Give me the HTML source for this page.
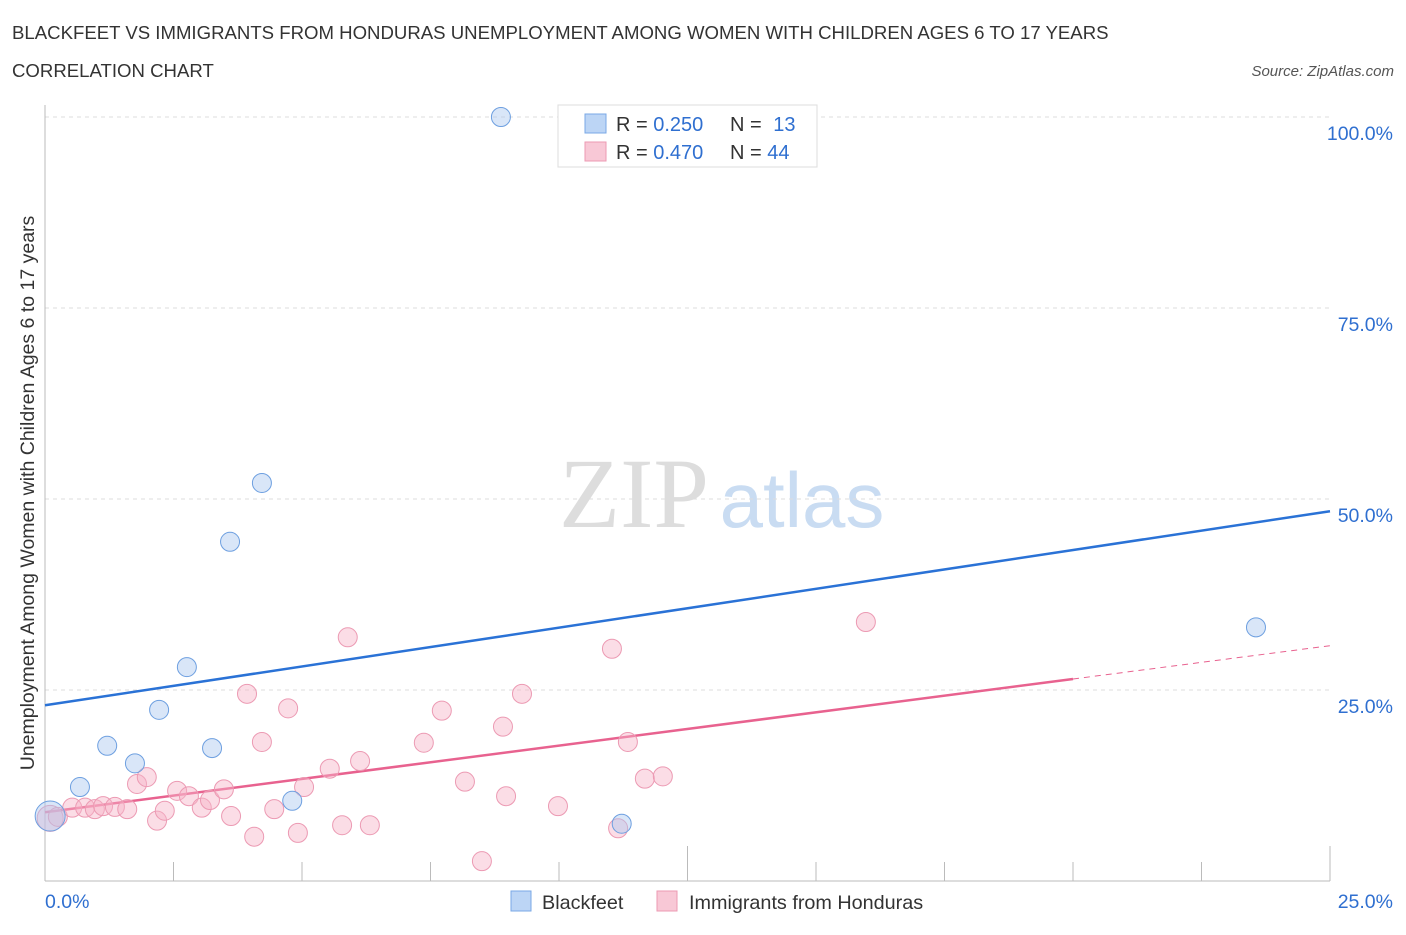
<!DOCTYPE html>
<html><head><meta charset="utf-8"><style>
body{margin:0;background:#fff;font-family:"Liberation Sans",sans-serif;}
svg text{font-family:"Liberation Sans",sans-serif;}
</style></head><body>
<svg width="1406" height="930" xmlns="http://www.w3.org/2000/svg" id="chart">
<text x="12" y="39" font-size="18.6" fill="#333">BLACKFEET VS IMMIGRANTS FROM HONDURAS UNEMPLOYMENT AMONG WOMEN WITH CHILDREN AGES 6 TO 17 YEARS</text>
<text x="12" y="77" font-size="18.6" fill="#333">CORRELATION CHART</text>
<text x="1394" y="76" font-size="15" fill="#555" font-style="italic" text-anchor="end">Source: ZipAtlas.com</text>
<text x="634" y="527" font-size="100" fill="#ddd" style="font-family:'Liberation Serif',serif" text-anchor="middle">ZIP</text>
<text x="802" y="527" font-size="78" fill="#c9dcf2" text-anchor="middle">atlas</text>
<g id="grid"></g><g id="axes"></g><g id="trends"></g><g id="points"></g>
<text transform="translate(34,493) rotate(-90)" font-size="19.5" fill="#333" text-anchor="middle">Unemployment Among Women with Children Ages 6 to 17 years</text>
<g>
<rect x="558" y="105" width="259" height="62" fill="#fff" stroke="#ddd"/>
<rect x="585" y="114" width="21" height="19" fill="#bcd5f5" stroke="#7aa8e6"/>
<rect x="585" y="142" width="21" height="19" fill="#f8c8d6" stroke="#ec9ab3"/>
<text x="616" y="131" font-size="20" fill="#333">R = <tspan fill="#2f6fd0">0.250</tspan></text>
<text x="730" y="131" font-size="20" fill="#333">N = <tspan fill="#2f6fd0" dx="6">13</tspan></text>
<text x="616" y="159" font-size="20" fill="#333">R = <tspan fill="#2f6fd0">0.470</tspan></text>
<text x="730" y="159" font-size="20" fill="#333">N = <tspan fill="#2f6fd0">44</tspan></text>
</g>
<g>
<rect x="511" y="891" width="20" height="20" fill="#bcd5f5" stroke="#7aa8e6"/>
<text x="542" y="909" font-size="19.8" fill="#333">Blackfeet</text>
<rect x="657" y="891" width="20" height="20" fill="#f8c8d6" stroke="#ec9ab3"/>
<text x="689" y="909" font-size="19.8" fill="#333">Immigrants from Honduras</text>
</g>
</svg>
<script>
const blueX=[0.10,0.68,1.21,1.75,2.22,2.76,3.25,3.60,4.22,4.81,8.87,11.22,23.56];
const blueY=[8.5,12.3,17.7,15.4,22.4,28.0,17.4,44.4,52.1,10.5,100,7.5,33.2];
const pinkX=[0.10,0.25,0.53,0.78,0.97,1.13,1.36,1.60,1.79,1.98,2.18,2.33,2.57,2.80,3.05,3.21,3.48,3.62,3.93,4.07,4.22,4.46,4.73,4.92,5.04,5.54,5.78,5.89,6.13,6.32,7.37,7.72,8.17,8.50,8.91,8.97,9.28,9.98,11.03,11.15,11.34,11.67,12.02,15.97];
const pinkY=[8.2,8.4,9.6,9.6,9.4,9.8,9.7,9.4,12.7,13.6,7.9,9.2,11.8,11.1,9.6,10.6,12.0,8.5,24.5,5.8,18.2,9.4,22.6,6.3,12.3,14.7,7.3,31.9,15.7,7.3,18.1,22.3,13.0,2.6,20.2,11.1,24.5,9.8,30.4,6.9,18.2,13.4,13.7,33.9];
const blueTrend=[23.0,48.4];
const pinkTrend=[9.0,30.8];
const pinkSolidEnd=20;
const yTicks=[25,50,75,100];
const yTickLabels=["25.0%","50.0%","75.0%","100.0%"];
const xTickLabels=["0.0%","25.0%"];
const NS="http://www.w3.org/2000/svg";
const X0=45,X1=1330,Y0=881,Y100=117;
const sx=v=>X0+(v/25)*(X1-X0);
const sy=v=>Y0-(v/100)*(Y0-Y100);
function mk(tag,attrs,parent){const e=document.createElementNS(NS,tag);for(const k in attrs)e.setAttribute(k,attrs[k]);document.getElementById(parent).appendChild(e);return e;}
yTicks.forEach((t,i)=>{
 const l=mk('line',{x1:X0,x2:X1,y1:sy(t),y2:sy(t),stroke:'#ddd','stroke-dasharray':'4,4'},'grid');
 
 
 const tx=mk('text',{x:1393,y:sy(t)+23,'font-size':19.5,fill:'#2f6fd0','text-anchor':'end'},'grid');
 tx.textContent=yTickLabels[i];
 
 
});
const ax=mk('line',{x1:X0,x2:X0,y1:105,y2:Y0,stroke:'#bbb'},'axes');


const axx=mk('line',{x1:X0,x2:X1,y1:Y0,y2:Y0,stroke:'#bbb'},'axes');


for(let i=1;i<=10;i++){const x=X0+i*(X1-X0)/10;const tk=mk('line',{x1:x,x2:x,y1:Y0,y2:i==5||i==10?846:862,stroke:'#bbb'},'axes');
 
 }
const xl0=mk('text',{x:45,y:908,'font-size':19.5,fill:'#2f6fd0'},'axes');xl0.textContent=xTickLabels[0];


const xl1=mk('text',{x:1393,y:908,'font-size':19.5,fill:'#2f6fd0','text-anchor':'end'},'axes');xl1.textContent=xTickLabels[1];


const bt=mk('line',{x1:sx(0),y1:sy(blueTrend[0]),x2:sx(25),y2:sy(blueTrend[1]),stroke:'#2a72d6','stroke-width':2.5},'trends');


const pm=pinkTrend[0]+(pinkTrend[1]-pinkTrend[0])*pinkSolidEnd/25;
const pt=mk('line',{x1:sx(0),y1:sy(pinkTrend[0]),x2:sx(pinkSolidEnd),y2:sy(pm),stroke:'#e8628f','stroke-width':2.5},'trends');


const pd=mk('line',{x1:sx(pinkSolidEnd),y1:sy(pm),x2:sx(25),y2:sy(pinkTrend[1]),stroke:'#e8628f','stroke-width':1,'stroke-dasharray':'6,5'},'trends');


pinkX.forEach((x,i)=>{const c=mk('circle',{cx:sx(x),cy:sy(pinkY[i]),r:i==0?13:9.5,fill:'rgba(246,180,200,0.45)',stroke:'#ec9ab3','stroke-width':1},'points');
 
 });
blueX.forEach((x,i)=>{const c=mk('circle',{cx:sx(x),cy:sy(blueY[i]),r:i==0?15:9.5,fill:'rgba(170,200,240,0.45)',stroke:'#6d9fe0','stroke-width':1},'points');
 
 });
</script>
</body></html>
